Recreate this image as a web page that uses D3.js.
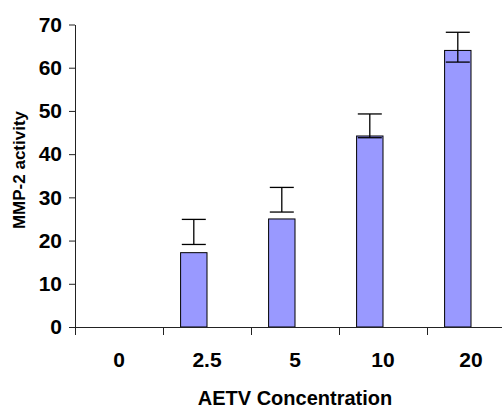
<!DOCTYPE html>
<html>
<head>
<meta charset="utf-8">
<script src="https://cdn.jsdelivr.net/npm/d3@7"></script>
<style>
  body { margin: 0; background: #fff; }
  text { font-family: "Liberation Sans", Arial, sans-serif; font-weight: bold; fill: #000; }
</style>
</head>
<body>
<div id="chart"></div>
<script>
// AETV concentration vs MMP-2 activity
var categories = ["0", "2.5", "5", "10", "20"];
var values = [0, 17.2, 25.0, 44.2, 64.0];
var errLow = [null, 19.1, 26.6, 43.8, 61.3];
var errHigh = [null, 24.9, 32.3, 49.3, 68.2];
var yTicks = [0, 10, 20, 30, 40, 50, 60, 70];

var width = 502, height = 407;
var margin = {left: 75, right: 515, top: 24.5, bottom: 327};

var svg = d3.select("#chart")
  .append("svg")
    .attr("width", width)
    .attr("height", height);

var x = d3.scaleBand()
    .domain(categories)
    .range([margin.left, margin.right]);

var y = d3.scaleLinear()
    .domain([0, 70])
    .range([margin.bottom, margin.top]);

var barW = x.bandwidth() * 0.3;

// bars sit to the left of the category centre
svg.selectAll("rect.bar")
  .data(categories.filter(function(c, i) { return values[i] > 0; }))
  .enter()
  .append("rect")
    .attr("class", "bar")
    .attr("x", function(d) { return x(d) + x.bandwidth() / 2 - barW; })
    .attr("y", function(d) { return y(values[categories.indexOf(d)]); })
    .attr("width", barW)
    .attr("height", function(d) { return margin.bottom - y(values[categories.indexOf(d)]); })
    .style("fill", "#9999ff")
    .style("stroke", "#000")
    .style("stroke-width", 1);

// error bars
var errs = svg.append("g").attr("class", "errors");
categories.forEach(function(c, i) {
  if (errLow[i] == null) return;
  var cx = x(c) + x.bandwidth() / 2 - barW / 2;
  errs.append("line")
      .attr("x1", cx).attr("x2", cx)
      .attr("y1", y(errLow[i])).attr("y2", y(errHigh[i]));
  [errLow[i], errHigh[i]].forEach(function(v) {
    errs.append("line")
        .attr("x1", cx - 12).attr("x2", cx + 12)
        .attr("y1", y(v)).attr("y2", y(v));
  });
});
errs.selectAll("line").style("stroke", "#000").style("stroke-width", 1.3);

// y axis
var yAxis = svg.append("g")
    .attr("transform", "translate(" + margin.left + ",0)")
    .call(d3.axisLeft(y).tickValues(yTicks).tickSize(6).tickSizeOuter(0).tickPadding(7));
yAxis.selectAll("text").style("font-size", "21px");

// x axis: ticks on band boundaries, labels on band centres
var xb = d3.scaleLinear().domain([0, categories.length]).range([margin.left, margin.right]);
svg.append("g")
    .attr("transform", "translate(0," + margin.bottom + ")")
    .call(d3.axisBottom(xb).ticks(categories.length).tickSize(8).tickSizeOuter(0).tickFormat(""));

var xAxis = svg.append("g")
    .attr("transform", "translate(0," + margin.bottom + ")")
    .call(d3.axisBottom(x).tickSize(0).tickPadding(25));
xAxis.select(".domain").remove();
xAxis.selectAll("text").style("font-size", "21px");

svg.selectAll(".domain, .tick line").style("stroke", "#222");

// axis titles
svg.append("text")
    .attr("x", 295)
    .attr("y", 405)
    .attr("text-anchor", "middle")
    .style("font-size", "20px")
    .text("AETV Concentration");

svg.append("text")
    .attr("transform", "translate(24.5,170) rotate(-90)")
    .attr("text-anchor", "middle")
    .style("font-size", "17px")
    .text("MMP-2 activity");
</script>
</body>
</html>
